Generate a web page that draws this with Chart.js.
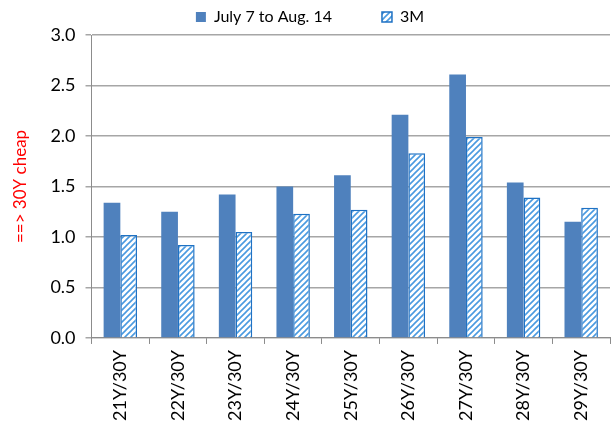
<!DOCTYPE html>
<html>
<head>
<meta charset="utf-8">
<script src="https://cdn.jsdelivr.net/npm/chart.js@4/dist/chart.umd.min.js"></script>
<style>
  body { margin: 0; background: #fff; }
  #wrap { width: 613px; height: 435px; }
</style>
</head>
<body>
<div id="wrap"><canvas id="spreadChart"></canvas></div>
<script>
var pairs = ["21Y/30Y", "22Y/30Y", "23Y/30Y", "24Y/30Y", "25Y/30Y", "26Y/30Y", "27Y/30Y", "28Y/30Y", "29Y/30Y"];
var recent = [1.34, 1.25, 1.42, 1.50, 1.61, 2.21, 2.61, 1.54, 1.15];
var threeMonth = [1.02, 0.92, 1.05, 1.23, 1.27, 1.83, 1.99, 1.39, 1.29];
var yTicks = [0, 0.5, 1, 1.5, 2, 2.5, 3];

// hatch fill for the 3M bars
function makeHatch() {
  var c = document.createElement("canvas");
  c.width = 6;
  c.height = 6;
  var g = c.getContext("2d");
  g.fillStyle = "#ffffff";
  g.fillRect(0, 0, 6, 6);
  g.strokeStyle = "#4a9ae0";
  g.lineWidth = 1.6;
  g.beginPath();
  g.moveTo(0, 6); g.lineTo(6, 0);
  g.moveTo(-3, 3); g.lineTo(3, -3);
  g.moveTo(3, 9); g.lineTo(9, 3);
  g.stroke();
  return g.createPattern(c, "repeat");
}

var ctx = document.getElementById("spreadChart").getContext("2d");
var hatch = makeHatch();

var myChart = new Chart(ctx, {
  type: "bar",
  data: {
    labels: pairs,
    datasets: [
      {
        label: "July 7 to Aug. 14",
        data: recent,
        backgroundColor: "#4f81bd",
        borderWidth: 0
      },
      {
        label: "3M",
        data: threeMonth,
        backgroundColor: hatch,
        borderColor: "#1f72c4",
        borderWidth: 1.5
      }
    ]
  },
  options: {
    responsive: true,
    maintainAspectRatio: false,
    animation: false,
    datasets: {
      bar: { categoryPercentage: 0.58, barPercentage: 1.0 }
    },
    layout: { padding: { left: 10, right: 3, top: 0, bottom: 8 } },
    plugins: {
      tooltip: { enabled: false },
      legend: {
        position: "top",
        labels: {
          boxWidth: 10,
          boxHeight: 10,
          padding: 9,
          color: "#000",
          font: { family: "Lato", size: 16 },
          generateLabels: function (chart) {
            var items = Chart.defaults.plugins.legend.labels.generateLabels(chart);
            // widen the first entry so the two sit apart like the original
            items[0].text = items[0].text + "          ";
            return items;
          }
        }
      }
    },
    scales: {
      x: {
        grid: {
          display: true,
          drawOnChartArea: false,
          drawTicks: true,
          tickLength: 6,
          offset: true,
          color: "#8c8c8c"
        },
        border: { color: "#8c8c8c" },
        ticks: {
          minRotation: 90,
          maxRotation: 90,
          color: "#000",
          padding: 6,
          font: { family: "Lato", size: 18 }
        }
      },
      y: {
        min: 0,
        max: 3,
        afterBuildTicks: function (axis) {
          axis.ticks = yTicks.map(function (v) { return { value: v }; });
        },
        grid: {
          color: "#a6a6a6",
          lineWidth: 1.5,
          tickLength: 6
        },
        border: { color: "#8c8c8c" },
        ticks: {
          color: "#000",
          padding: 10,
          font: { family: "Lato", size: 18 },
          callback: function (v) { return v.toFixed(1); }
        },
        title: {
          display: true,
          text: "==> 30Y cheap",
          color: "#ff0000",
          padding: { top: 0, bottom: 10 },
          font: { family: "Lato", size: 17 }
        }
      }
    }
  }
});
</script>
</body>
</html>
